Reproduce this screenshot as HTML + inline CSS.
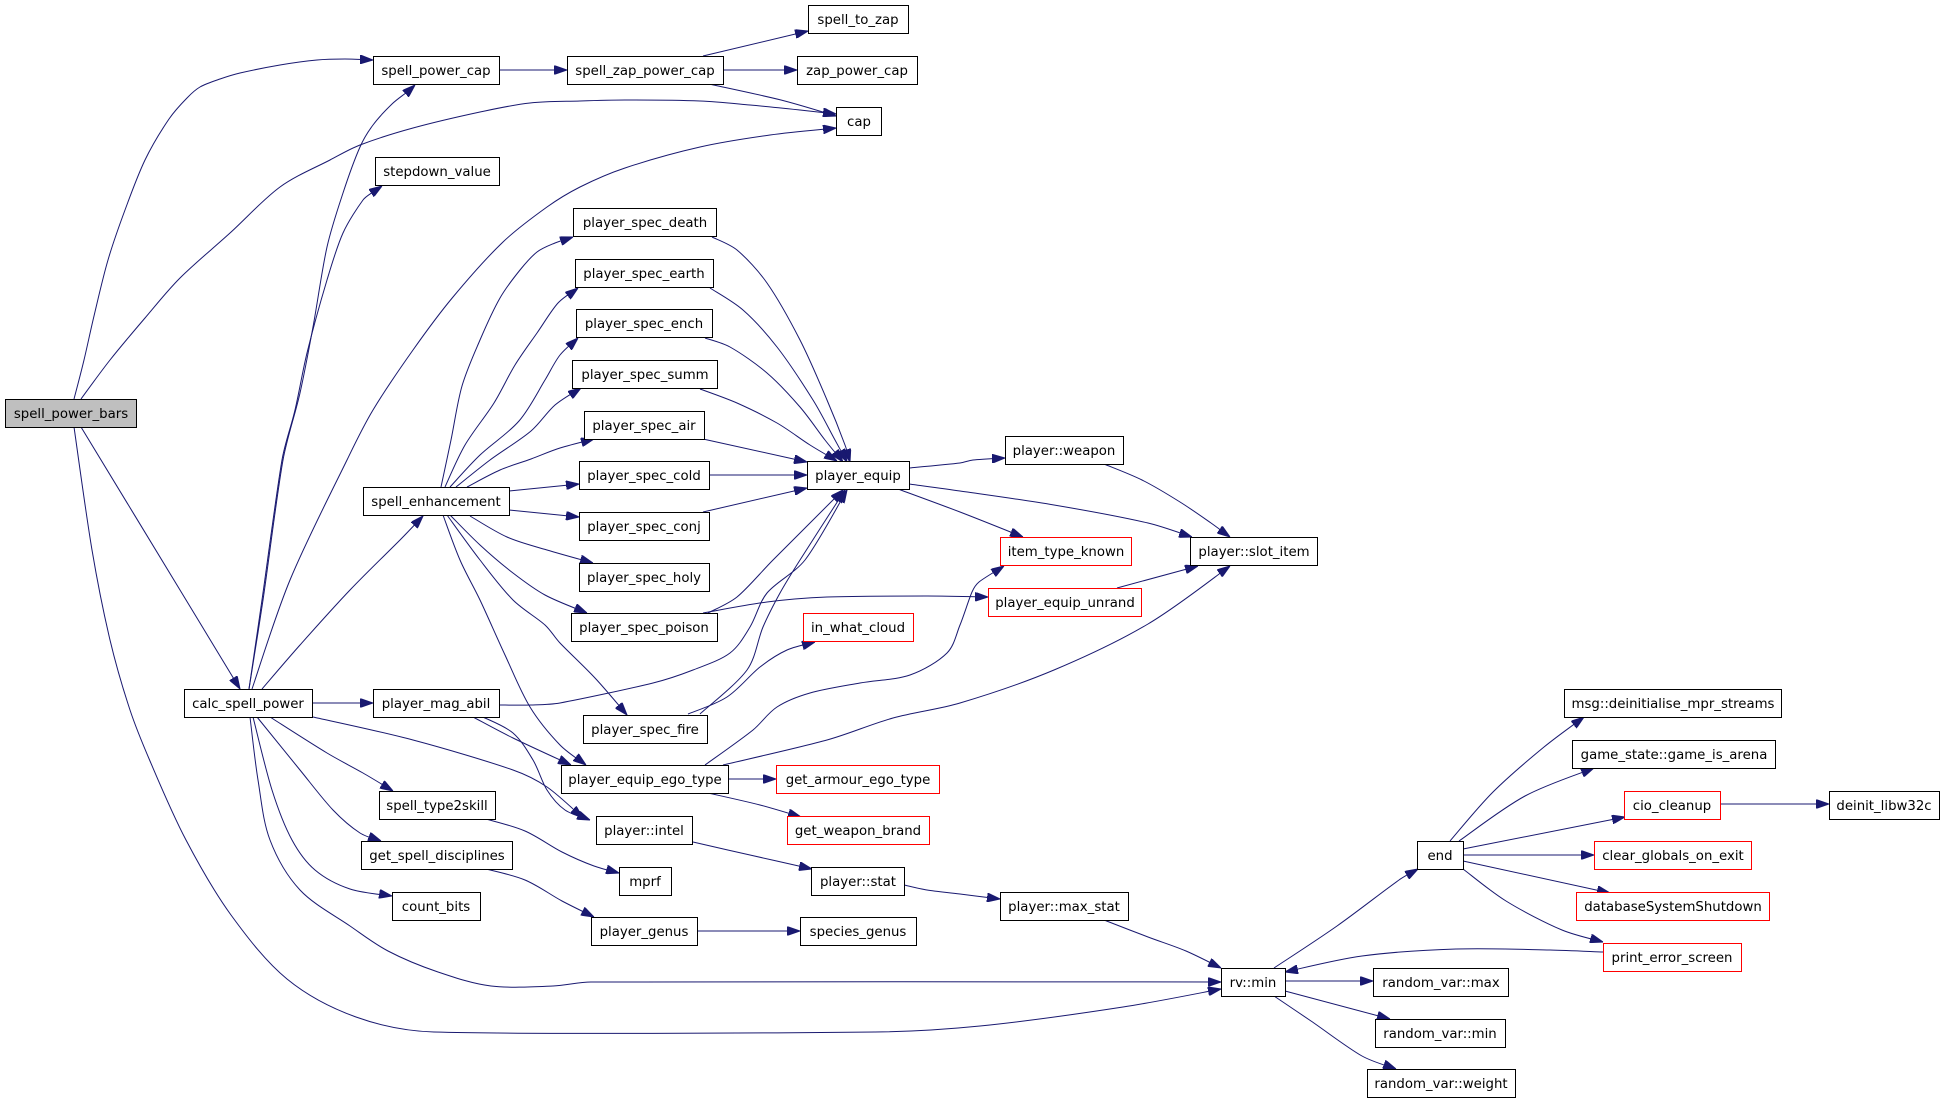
<!DOCTYPE html>
<html><head><meta charset="utf-8"><style>
html,body{margin:0;padding:0;background:#fff;}
svg{display:block;}
text{font-family:"DejaVu Sans","Liberation Sans",sans-serif;font-size:13.3px;fill:#000;text-anchor:middle;}
.e{fill:none;stroke:#191970;stroke-width:1;stroke-linejoin:round;marker-end:url(#a);}
.n{fill:#fff;stroke:#000;stroke-width:1;}
.r{fill:#fff;stroke:#ff0000;stroke-width:1;}
</style></head><body>
<svg width="1944" height="1101" viewBox="0 0 1944 1101" xmlns="http://www.w3.org/2000/svg">
<defs><marker id="a" markerWidth="13" markerHeight="9" refX="13" refY="4.5" orient="auto" markerUnits="userSpaceOnUse"><path d="M0,0 L13,4.5 L0,9 z" fill="#191970" stroke="#191970" stroke-width="1"/></marker></defs>
<rect width="1944" height="1101" fill="#fff"/>
<!-- edges -->
<path class="e" d="M74,399 L84,360 L94,316 L108,260 L125,210 L145,160 L169,119 L187,98 L200,87 L220,79 L240,73 L280,65 L317,60 L345,59 L373,60"/>
<path class="e" d="M81,399 L110,360 L145,318 L180,278 L230,233 L280,187 L330,160 L360,145 L413,128 L480,112 L530,103 L580,101 L625,100 L700,101 L750,105 L800,110 L836,114"/>
<path class="e" d="M81,427 L180,590 L240,689"/>
<path class="e" d="M74,427 L92,550 L110,640 L130,710 L150,761 L186,840 L231,915 L287,979 L356,1017 L434,1032 L875,1032 L980,1026 L1123,1007 L1221,989"/>
<path class="e" d="M249,689 L263,600 L283,460 L300,393 L313,327 L327,247 L343,193 L360,147 L373,125 L392,104 L407,92 L415,85"/>
<path class="e" d="M249,689 L262,600 L282,460 L295,410 L307,353 L327,280 L343,233 L363,200 L373,192 L382,186"/>
<path class="e" d="M252,689 L290,580 L347,460 L373,410 L413,350 L453,297 L503,242 L547,207 L580,187 L625,168 L700,147 L770,135 L836,128"/>
<path class="e" d="M262,689 L300,645 L350,590 L400,540 L423,516"/>
<path class="e" d="M312,703 L373,703"/>
<path class="e" d="M313,717 L413,740 L513,770 L547,787 L583,818"/>
<path class="e" d="M270,717 L327,753 L363,773 L393,791"/>
<path class="e" d="M257,717 L300,770 L333,810 L360,833 L381,841"/>
<path class="e" d="M253,717 L272,790 L292,840 L315,870 L350,889 L392,896"/>
<path class="e" d="M250,717 L258,780 L270,840 L300,890 L350,926 L388,951 L438,972 L491,986 L553,986 L591,982 L1221,982"/>
<path class="e" d="M441,487 L451,440 L462,386 L480,340 L500,298 L520,270 L537,252 L555,243 L573,237"/>
<path class="e" d="M445,487 L465,445 L494,403 L515,365 L537,333 L558,303 L578,288"/>
<path class="e" d="M450,487 L480,455 L519,421 L545,380 L560,355 L578,338"/>
<path class="e" d="M456,487 L490,460 L531,431 L555,405 L581,388"/>
<path class="e" d="M467,487 L500,470 L531,459 L560,448 L594,439"/>
<path class="e" d="M509,491 L579,484"/>
<path class="e" d="M509,510 L579,517"/>
<path class="e" d="M470,516 L507,537 L547,550 L593,563"/>
<path class="e" d="M450,515 L480,545 L513,573 L545,595 L587,613"/>
<path class="e" d="M447,515 L480,560 L513,600 L545,625 L560,643 L595,678 L627,715"/>
<path class="e" d="M443,515 L460,560 L480,600 L505,655 L530,707 L560,745 L586,765"/>
<path class="e" d="M712,237 L737,250 L767,283 L800,340 L827,400 L845,445 L850,462"/>
<path class="e" d="M710,288 L743,310 L777,347 L813,400 L835,440 L847,462"/>
<path class="e" d="M705,338 L730,347 L767,373 L800,407 L825,440 L843,462"/>
<path class="e" d="M700,389 L737,403 L777,423 L810,445 L837,461"/>
<path class="e" d="M703,439 L807,462"/>
<path class="e" d="M709,475 L807,475"/>
<path class="e" d="M703,512 L807,488"/>
<path class="e" d="M708,613 L737,597 L773,560 L843,490"/>
<path class="e" d="M700,714 L747,670 L763,627 L780,593 L800,560 L845,490"/>
<path class="e" d="M499,705 L531,705 L560,703 L653,683 L693,670 L730,653 L750,627 L767,593 L805,560 L847,490"/>
<path class="e" d="M688,714 L727,697 L760,667 L787,650 L815,642"/>
<path class="e" d="M703,613 L767,602 L827,597 L927,596 L988,597"/>
<path class="e" d="M728,779 L776,779"/>
<path class="e" d="M708,793 L760,805 L801,817"/>
<path class="e" d="M705,765 L753,730 L777,707 L810,693 L860,683 L910,675 L947,653 L960,625 L972,592 L979,582 L1004,566"/>
<path class="e" d="M723,765 L827,740 L893,718 L960,703 L1054,670 L1148,624 L1230,566"/>
<path class="e" d="M473,717 L513,738 L571,765"/>
<path class="e" d="M483,717 L513,733 L533,760 L547,790 L565,810 L590,820"/>
<path class="e" d="M693,842 L750,855 L812,869"/>
<path class="e" d="M486,819 L525,831 L562,852 L594,866 L619,873"/>
<path class="e" d="M486,869 L525,880 L562,901 L594,917"/>
<path class="e" d="M697,931 L800,931"/>
<path class="e" d="M904,885 L927,890 L960,894 L1000,899"/>
<path class="e" d="M909,468 L960,463 L973,460 L1005,458"/>
<path class="e" d="M909,484 L960,491 L1054,505 L1148,523 L1192,537"/>
<path class="e" d="M898,489 L960,512 L1023,537"/>
<path class="e" d="M1104,464 L1142,480 L1180,502 L1211,523 L1230,537"/>
<path class="e" d="M1117,588 L1198,566"/>
<path class="e" d="M1104,920 L1148,937 L1186,951 L1221,968"/>
<path class="e" d="M1274,968 L1337,926 L1399,880 L1418,869"/>
<path class="e" d="M1450,841 L1493,792 L1544,747 L1584,717"/>
<path class="e" d="M1459,841 L1525,796 L1594,768"/>
<path class="e" d="M1463,849 L1625,817"/>
<path class="e" d="M1463,855 L1594,855"/>
<path class="e" d="M1463,861 L1610,893"/>
<path class="e" d="M1463,869 L1506,901 L1562,930 L1603,942"/>
<path class="e" d="M1603,952 L1550,950 L1456,949 L1362,956 L1285,972"/>
<path class="e" d="M1721,804 L1829,804"/>
<path class="e" d="M1285,981 L1373,981"/>
<path class="e" d="M1285,991 L1390,1019"/>
<path class="e" d="M1274,996 L1311,1021 L1362,1056 L1396,1069"/>
<path class="e" d="M499,70 L567,70"/>
<path class="e" d="M703,56 L808,31"/>
<path class="e" d="M723,70 L797,70"/>
<path class="e" d="M709,84 L781,100 L836,116"/>
<!-- nodes -->
<rect x="5.5" y="399.5" width="131" height="28" fill="#bfbfbf" stroke="#000"/><text x="71" y="418">spell_power_bars</text>
<rect class="n" x="373.5" y="56.5" width="126" height="28"/><text x="436" y="75">spell_power_cap</text>
<rect class="n" x="567.5" y="56.5" width="156" height="28"/><text x="645" y="75">spell_zap_power_cap</text>
<rect class="n" x="808.5" y="5.5" width="100" height="28"/><text x="858" y="24">spell_to_zap</text>
<rect class="n" x="797.5" y="56.5" width="120" height="28"/><text x="857" y="75">zap_power_cap</text>
<rect class="n" x="836.5" y="107.5" width="45" height="28"/><text x="859" y="126">cap</text>
<rect class="n" x="375.5" y="157.5" width="124" height="28"/><text x="437" y="176">stepdown_value</text>
<rect class="n" x="573.5" y="208.5" width="143" height="28"/><text x="645" y="227">player_spec_death</text>
<rect class="n" x="575.5" y="259.5" width="138" height="28"/><text x="644" y="278">player_spec_earth</text>
<rect class="n" x="576.5" y="309.5" width="136" height="28"/><text x="644" y="328">player_spec_ench</text>
<rect class="n" x="572.5" y="360.5" width="145" height="28"/><text x="645" y="379">player_spec_summ</text>
<rect class="n" x="584.5" y="411.5" width="120" height="28"/><text x="644" y="430">player_spec_air</text>
<rect class="n" x="579.5" y="461.5" width="130" height="28"/><text x="644" y="480">player_spec_cold</text>
<rect class="n" x="807.5" y="461.5" width="102" height="28"/><text x="858" y="480">player_equip</text>
<rect class="n" x="363.5" y="487.5" width="146" height="28"/><text x="436" y="506">spell_enhancement</text>
<rect class="n" x="579.5" y="512.5" width="130" height="28"/><text x="644" y="531">player_spec_conj</text>
<rect class="n" x="1005.5" y="436.5" width="118" height="28"/><text x="1064" y="455">player::weapon</text>
<rect class="r" x="1000.5" y="537.5" width="131" height="28"/><text x="1066" y="556">item_type_known</text>
<rect class="n" x="1190.5" y="537.5" width="127" height="28"/><text x="1254" y="556">player::slot_item</text>
<rect class="n" x="579.5" y="563.5" width="130" height="28"/><text x="644" y="582">player_spec_holy</text>
<rect class="r" x="988.5" y="588.5" width="153" height="28"/><text x="1065" y="607">player_equip_unrand</text>
<rect class="n" x="571.5" y="613.5" width="146" height="28"/><text x="644" y="632">player_spec_poison</text>
<rect class="r" x="803.5" y="613.5" width="110" height="28"/><text x="858" y="632">in_what_cloud</text>
<rect class="n" x="184.5" y="689.5" width="128" height="28"/><text x="248" y="708">calc_spell_power</text>
<rect class="n" x="373.5" y="689.5" width="126" height="28"/><text x="436" y="708">player_mag_abil</text>
<rect class="n" x="583.5" y="715.5" width="124" height="28"/><text x="645" y="734">player_spec_fire</text>
<rect class="n" x="561.5" y="765.5" width="167" height="28"/><text x="645" y="784">player_equip_ego_type</text>
<rect class="r" x="776.5" y="765.5" width="163" height="28"/><text x="858" y="784">get_armour_ego_type</text>
<rect class="n" x="379.5" y="791.5" width="116" height="28"/><text x="437" y="810">spell_type2skill</text>
<rect class="n" x="596.5" y="816.5" width="96" height="28"/><text x="644" y="835">player::intel</text>
<rect class="r" x="787.5" y="816.5" width="142" height="28"/><text x="858" y="835">get_weapon_brand</text>
<rect class="n" x="361.5" y="841.5" width="151" height="28"/><text x="437" y="860">get_spell_disciplines</text>
<rect class="n" x="619.5" y="867.5" width="52" height="28"/><text x="645" y="886">mprf</text>
<rect class="n" x="811.5" y="867.5" width="93" height="28"/><text x="858" y="886">player::stat</text>
<rect class="n" x="392.5" y="892.5" width="88" height="28"/><text x="436" y="911">count_bits</text>
<rect class="n" x="591.5" y="917.5" width="106" height="28"/><text x="644" y="936">player_genus</text>
<rect class="n" x="800.5" y="917.5" width="116" height="28"/><text x="858" y="936">species_genus</text>
<rect class="n" x="1564.5" y="689.5" width="217" height="28"/><text x="1673" y="708">msg::deinitialise_mpr_streams</text>
<rect class="n" x="1572.5" y="740.5" width="203" height="28"/><text x="1674" y="759">game_state::game_is_arena</text>
<rect class="r" x="1624.5" y="791.5" width="96" height="28"/><text x="1672" y="810">cio_cleanup</text>
<rect class="n" x="1829.5" y="791.5" width="110" height="28"/><text x="1884" y="810">deinit_libw32c</text>
<rect class="n" x="1417.5" y="841.5" width="46" height="28"/><text x="1440" y="860">end</text>
<rect class="r" x="1594.5" y="841.5" width="157" height="28"/><text x="1673" y="860">clear_globals_on_exit</text>
<rect class="r" x="1576.5" y="892.5" width="193" height="28"/><text x="1673" y="911">databaseSystemShutdown</text>
<rect class="n" x="1000.5" y="892.5" width="128" height="28"/><text x="1064" y="911">player::max_stat</text>
<rect class="r" x="1603.5" y="943.5" width="138" height="28"/><text x="1672" y="962">print_error_screen</text>
<rect class="n" x="1221.5" y="968.5" width="64" height="28"/><text x="1253" y="987">rv::min</text>
<rect class="n" x="1373.5" y="968.5" width="135" height="28"/><text x="1441" y="987">random_var::max</text>
<rect class="n" x="1375.5" y="1019.5" width="130" height="28"/><text x="1440" y="1038">random_var::min</text>
<rect class="n" x="1367.5" y="1069.5" width="148" height="28"/><text x="1441" y="1088">random_var::weight</text>
</svg>
<script>
(function(){
  function len(a,b){var dx=b[0]-a[0],dy=b[1]-a[1];return Math.sqrt(dx*dx+dy*dy);}
  var ps=document.querySelectorAll('path.e');
  for(var k=0;k<ps.length;k++){
    var d=ps[k].getAttribute('d');
    var nums=d.match(/-?\d+(\.\d+)?/g).map(Number);
    var P=[];for(var i=0;i<nums.length;i+=2)P.push([nums[i],nums[i+1]]);
    if(P.length<3)continue;
    var s='M'+P[0][0]+','+P[0][1];
    for(var i=0;i<P.length-1;i++){
      var p0=P[i>0?i-1:i],p1=P[i],p2=P[i+1],p3=P[i+2<P.length?i+2:i+1];
      var seg=len(p1,p2);
      var t1x=p2[0]-p0[0],t1y=p2[1]-p0[1],l1=Math.sqrt(t1x*t1x+t1y*t1y)||1;
      var t2x=p3[0]-p1[0],t2y=p3[1]-p1[1],l2=Math.sqrt(t2x*t2x+t2y*t2y)||1;
      var h1=Math.min(l1/6,seg/3),h2=Math.min(l2/6,seg/3);
      var c1x=p1[0]+t1x/l1*h1,c1y=p1[1]+t1y/l1*h1;
      var c2x=p2[0]-t2x/l2*h2,c2y=p2[1]-t2y/l2*h2;
      s+=' C'+c1x.toFixed(1)+','+c1y.toFixed(1)+' '+c2x.toFixed(1)+','+c2y.toFixed(1)+' '+p2[0]+','+p2[1];
    }
    ps[k].setAttribute('d',s);
  }
})();
</script>
</body></html>
